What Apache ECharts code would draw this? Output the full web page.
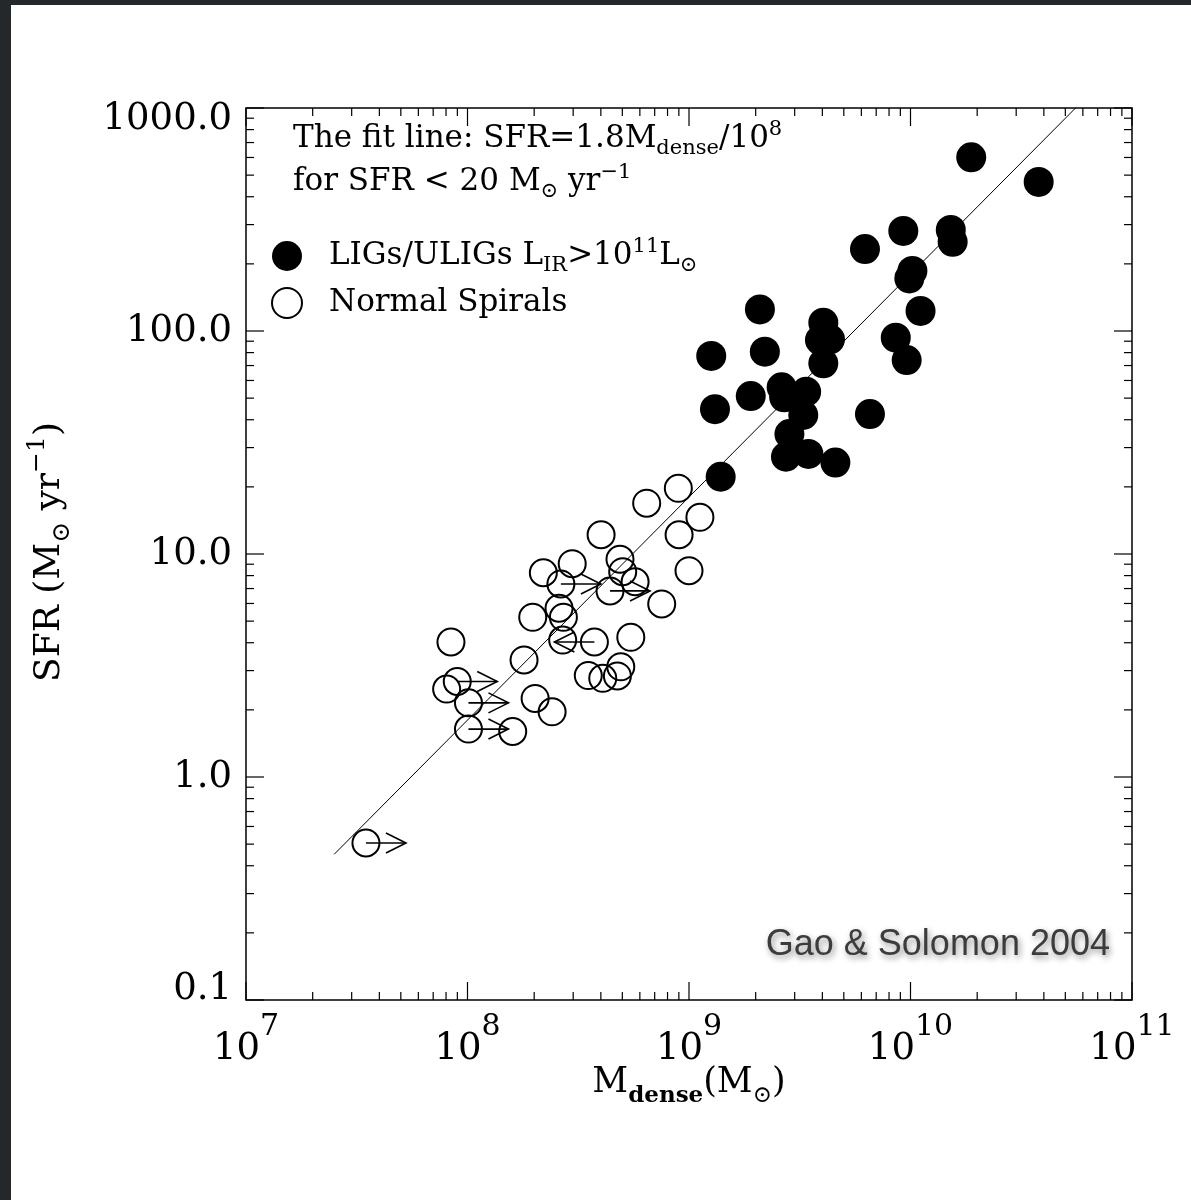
<!DOCTYPE html>
<html>
<head>
	<meta charset="utf-8">
	<title>SFR - Mdense</title>
	<script src="https://cdn.jsdelivr.net/npm/echarts@6/dist/echarts.min.js"></script>
	<style>
		body{margin:0; background:#fff;}
		#main{width:1191px; height:1200px;}
		.edge{position:absolute; background:#25282b;}
	</style>
</head>
<body>
	<div id="main"></div>
	<div class="edge" style="left:0;top:0;width:1191px;height:5px;"></div>
	<div class="edge" style="left:0;top:0;width:11px;height:1200px;"></div>

<script type="text/javascript">
	// LIGs / ULIGs (filled)
	var ligMass = [1.39e9, 1.26e9, 1.31e9, 1.90e9, 2.09e9, 2.20e9, 2.62e9, 2.69e9, 3.38e9, 3.28e9,
		2.84e9, 2.74e9, 3.46e9, 4.58e9, 4.04e9, 3.90e9, 4.33e9, 4.04e9, 6.56e9, 6.23e9,
		8.58e9, 9.61e9, 9.28e9, 1.02e10, 9.88e9, 1.11e10, 1.52e10, 1.55e10, 1.88e10, 3.79e10];
	var ligSfr = [22.2, 77.3, 44.6, 51.1, 125, 80.8, 55.9, 50.4, 53.4, 42.0,
		34.5, 27.3, 28.1, 25.7, 109, 91.1, 91.8, 71.6, 42.4, 233,
		93.3, 74.1, 281, 186, 172, 123, 284, 251, 601, 466];

	// normal spirals (open)
	var spiralMass = [3.48e7, 8.42e7, 8.05e7, 8.99e7, 1.01e8, 1.01e8, 1.60e8, 1.80e8, 2.02e8, 2.41e8,
		1.97e8, 2.20e8, 2.59e8, 2.71e8, 2.64e8, 2.97e8, 2.69e8, 3.74e8, 3.51e8, 4.08e8,
		4.75e8, 4.92e8, 5.46e8, 4.01e8, 4.88e8, 5.02e8, 5.71e8, 4.40e8, 7.53e8, 6.44e8,
		8.95e8, 1.12e9, 9.02e8, 1.00e9];
	var spiralSfr = [0.506, 4.03, 2.48, 2.68, 2.15, 1.64, 1.60, 3.35, 2.25, 1.96,
		5.20, 8.24, 5.71, 5.20, 7.34, 9.05, 4.11, 4.03, 2.85, 2.77,
		2.84, 3.12, 4.23, 12.2, 9.47, 8.33, 7.51, 6.83, 5.97, 16.9,
		19.7, 14.6, 12.2, 8.42];

	// limits on Mdense (1 = arrow right, -1 = arrow left)
	var limitMass = [3.48e7, 8.99e7, 1.01e8, 1.01e8, 2.64e8, 4.40e8, 3.74e8];
	var limitSfr = [0.506, 2.68, 2.15, 1.64, 7.34, 6.83, 4.03];
	var limitDir = [1, 1, 1, 1, 1, 1, -1];

	// fit line SFR = 1.8 Mdense / 1e8
	var fitMass = [2.5e7, 5.56e10];
	var fitSfr = [0.45, 1000];

	var xDecades = [1e7, 1e8, 1e9, 1e10, 1e11];
	var yDecades = [0.1, 1, 10, 100, 1000];
	var minorSteps = [2, 3, 4, 5, 6, 7, 8, 9];

	var serif = 'DejaVu Serif';

	function $each(arr, fn){
		for(var i = 0; i < arr.length; i++){ fn(arr[i], i); }
	}

	function pairs(a, b){
		return a.map(function(v, i){ return [v, b[i]]; });
	}

	// tick marks on all four sides: [x, y, side, length]
	var ticks = [];
	$each(xDecades, function(v, i){
		ticks.push([v, 0.1, 0, 18], [v, 1000, 1, 18]);
		if(i < xDecades.length - 1){
			$each(minorSteps, function(s){
				ticks.push([v * s, 0.1, 0, 8], [v * s, 1000, 1, 8]);
			});
		}
	});
	$each(yDecades, function(v, i){
		ticks.push([1e7, v, 2, 18], [1e11, v, 3, 18]);
		if(i < yDecades.length - 1){
			$each(minorSteps, function(s){
				ticks.push([1e7, v * s, 2, 8], [1e11, v * s, 3, 8]);
			});
		}
	});

	function renderTick(params, api){
		var p = api.coord([api.value(0), api.value(1)]);
		var side = api.value(2), len = api.value(3);
		var dx = [0, 0, len, -len][side];
		var dy = [-len, len, 0, 0][side];
		return {
			type: 'line',
			shape: {x1: p[0], y1: p[1], x2: p[0] + dx, y2: p[1] + dy},
			style: {stroke: '#000', lineWidth: 1.2}
		};
	}

	function renderArrow(params, api){
		var p = api.coord([api.value(0), api.value(1)]);
		var dir = api.value(2);
		var tip = p[0] + dir * 40;
		return {
			type: 'group',
			children: [{
				type: 'line',
				shape: {x1: p[0], y1: p[1], x2: tip, y2: p[1]},
				style: {stroke: '#000', lineWidth: 1.6}
			}, {
				type: 'polyline',
				shape: {points: [[tip - dir * 20, p[1] - 10], [tip, p[1]], [tip - dir * 20, p[1] + 10]]},
				style: {stroke: '#000', fill: null, lineWidth: 1.6}
			}]
		};
	}

	// annotation lines and legend text
	var noteRich = {
		t: {fontFamily: serif, fontSize: 31, color: '#000', lineHeight: 40, verticalAlign: 'middle'},
		p: {fontFamily: serif, fontSize: 31, color: '#000', lineHeight: 40, verticalAlign: 'middle', padding: [0, 0, 0, 22]},
		sup: {fontFamily: serif, fontSize: 21, color: '#000', lineHeight: 20, verticalAlign: 'top'},
		sub: {fontFamily: serif, fontSize: 21, color: '#000', lineHeight: 26, verticalAlign: 'bottom'}
	};

	var chartDom = document.getElementById('main');
	var myChart = echarts.init(chartDom);

	var option = {
		backgroundColor: '#fff',
		animation: false,
		grid: {
			left: 246, top: 108, width: 886, height: 892,
			show: true, borderColor: '#000', borderWidth: 1.5, backgroundColor: 'transparent'
		},
		xAxis: {
			type: 'log', logBase: 10, min: 1e7, max: 1e11,
			axisLine: {show: false},
			axisTick: {show: false},
			splitLine: {show: false},
			axisLabel: {
				margin: 12,
				formatter: function(v){
					return '{b|10}{s|' + Math.round(Math.log10(v)) + '}';
				},
				rich: {
					b: {fontFamily: serif, fontSize: 37, color: '#000', lineHeight: 56, verticalAlign: 'bottom'},
					s: {fontFamily: serif, fontSize: 30, color: '#000', lineHeight: 18, verticalAlign: 'top'}
				}
			}
		},
		yAxis: {
			type: 'log', logBase: 10, min: 0.1, max: 1000,
			axisLine: {show: false},
			axisTick: {show: false},
			splitLine: {show: false},
			axisLabel: {
				margin: 14,
				fontFamily: serif, fontSize: 37, color: '#000', lineHeight: 22,
				verticalAlignMaxLabel: 'top',
				verticalAlignMinLabel: 'bottom',
				formatter: function(v){ return Number(v).toFixed(1); }
			}
		},
		legend: {
			left: 271, top: 236, orient: 'vertical', padding: 0,
			itemGap: 11, itemWidth: 30, itemHeight: 30,
			data: [{name: 'LIGs/ULIGs', icon: 'circle'}, {name: 'Normal Spirals', icon: 'circle'}],
			formatter: function(name){
				if(name == 'LIGs/ULIGs'){
					return '{p|LIGs/ULIGs L}{sub|IR}{t|>10}{sup|11}{t|L}{sub|\u2299}';
				}
				return '{p|Normal Spirals}';
			},
			textStyle: {rich: noteRich}
		},
		graphic: [{
			type: 'text', x: 293, y: 139,
			style: {
				text: '{t|The fit line: SFR=1.8M}{sub|dense}{t|/10}{sup|8}',
				verticalAlign: 'middle',
				rich: noteRich
			}
		}, {
			type: 'text', x: 293, y: 182,
			style: {
				text: '{t|for SFR < 20 M}{sub|\u2299}{t| yr}{sup|\u22121}',
				verticalAlign: 'middle',
				rich: noteRich
			}
		}, {
			type: 'text', x: 1110, y: 945,
			style: {
				text: 'Gao & Solomon 2004',
				align: 'right', verticalAlign: 'middle',
				fontFamily: 'Liberation Sans', fontSize: 36, fill: '#3c3c3c',
				textShadowColor: 'rgba(0,0,0,0.45)', textShadowBlur: 6,
				textShadowOffsetX: 2, textShadowOffsetY: 3
			}
		}, {
			type: 'text', x: 689, y: 1083,
			style: {
				text: '{b|M}{d|dense}{b|(M}{c|\u2299}{b|)}',
				align: 'center', verticalAlign: 'middle',
				rich: {
					b: {fontFamily: serif, fontSize: 35, fill: '#000', lineHeight: 50, verticalAlign: 'middle'},
					d: {fontFamily: serif, fontSize: 23, fontWeight: 'bold', fill: '#000', lineHeight: 26, verticalAlign: 'bottom'},
					c: {fontFamily: serif, fontSize: 23, fill: '#000', lineHeight: 26, verticalAlign: 'bottom'}
				}
			}
		}, {
			type: 'text', x: 50, y: 552, rotation: Math.PI / 2,
			style: {
				text: '{b|SFR (M}{c|\u2299}{b| yr}{s|\u22121}{b|)}',
				align: 'center', verticalAlign: 'middle',
				rich: {
					b: {fontFamily: serif, fontSize: 36, fill: '#000', lineHeight: 50, verticalAlign: 'middle'},
					c: {fontFamily: serif, fontSize: 25, fill: '#000', lineHeight: 28, verticalAlign: 'bottom'},
					s: {fontFamily: serif, fontSize: 25, fill: '#000', lineHeight: 26, verticalAlign: 'top'}
				}
			}
		}],
		series: [{
			type: 'custom',
			silent: true,
			renderItem: renderTick,
			data: ticks,
			z: 1
		}, {
			type: 'line',
			silent: true,
			data: pairs(fitMass, fitSfr),
			symbol: 'none',
			lineStyle: {color: '#000', width: 1},
			z: 2
		}, {
			name: 'Normal Spirals',
			type: 'scatter',
			data: pairs(spiralMass, spiralSfr),
			symbol: 'circle',
			symbolSize: 27,
			itemStyle: {color: 'rgba(255,255,255,0)', borderColor: '#000', borderWidth: 2, opacity: 1},
			z: 3
		}, {
			type: 'custom',
			silent: true,
			renderItem: renderArrow,
			data: limitMass.map(function(m, i){ return [m, limitSfr[i], limitDir[i]]; }),
			z: 3
		}, {
			name: 'LIGs/ULIGs',
			type: 'scatter',
			data: pairs(ligMass, ligSfr),
			symbol: 'circle',
			symbolSize: 30,
			itemStyle: {color: '#000', opacity: 1},
			z: 4
		}]
	};
	myChart.setOption(option);
</script>
</body>
</html>
